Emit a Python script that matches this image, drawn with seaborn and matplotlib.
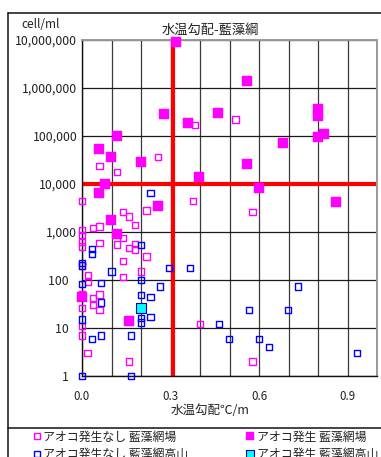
import matplotlib
matplotlib.use("Agg")
import matplotlib.pyplot as plt
import matplotlib.ticker as mticker
from matplotlib.lines import Line2D
import seaborn as sns
import pandas as pd

# ---------------- data ----------------
# アオコ発生 藍藻網場 (filled magenta)
bloom_a_x = [0.319, 0.278, 0.359, 0.119, 0.058, 0.098, 0.200, 0.078, 0.058, 0.395,
             0.559, 0.460, 0.800, 0.800, 0.800, 0.820, 0.680, 0.559, 0.599, 0.860,
             0.256, 0.098, 0.119, 0.0, 0.159]
bloom_a_y = [9.0e6, 2.9e5, 1.9e5, 1.0e5, 5.4e4, 3.6e4, 2.9e4, 1.0e4, 6.4e3, 1.4e4,
             1.4e6, 3.0e5, 3.6e5, 2.6e5, 9.7e4, 1.1e5, 7.3e4, 2.6e4, 8.3e3, 4.2e3,
             3.4e3, 1.8e3, 900, 45, 14]

# アオコ発生 藍藻網高山 (filled cyan)
bloom_b_x = [0.199]
bloom_b_y = [26]

# アオコ発生なし 藍藻網場 (open magenta)
none_a_x = [0.059, 0.118, 0.258, 0.382, 0.520, 0.0, 0.377, 0.578, 0.400, 0.578,
            0.219, 0.138, 0.160, 0.180, 0.059, 0.038, 0.0, 0.0, 0.138, 0.0,
            0.059, 0.118, 0.180, 0.0, 0.160, 0.180, 0.219, 0.138, 0.0, 0.021,
            0.199, 0.021, 0.138, 0.0, 0.059, 0.038, 0.038, 0.059, 0.0, 0.0,
            0.0, 0.019, 0.160]
none_a_y = [2.4e4, 1.8e4, 3.7e4, 1.7e5, 2.2e5, 4.5e3, 4.4e3, 2.6e3, 12, 2,
            2.8e3, 2.6e3, 2.1e3, 1.4e3, 1.3e3, 1.2e3, 1.1e3, 870, 740, 630,
            580, 550, 560, 500, 460, 430, 310, 250, 200, 127,
            150, 92, 114, 50, 50, 42, 30, 24, 26, 11,
            7, 3, 2]

# アオコ発生なし 藍藻網高山 (open blue)
none_b_x = [0.232, 0.199, 0.033, 0.033, 0.0, 0.0, 0.100, 0.296, 0.365, 0.199,
            0.0, 0.065, 0.265, 0.199, 0.232, 0.065, 0.0, 0.199, 0.199, 0.232,
            0.065, 0.033, 0.166, 0.0, 0.166, 0.731, 0.566, 0.698, 0.465, 0.498,
            0.599, 0.633, 0.933]
none_b_y = [6.6e3, 530, 440, 350, 230, 200, 150, 180, 175, 100,
            81, 85, 73, 49, 45, 34, 15, 16, 13, 17,
            7, 6, 7, 1, 1, 73, 24, 24, 12, 6,
            6, 4, 3]

threshold_x = 0.31
threshold_y = 10000

y_ticks = [1, 10, 100, 1000, 10000, 100000, 1000000, 10000000]
x_ticks = [0.0, 0.3, 0.6, 0.9]

title = "水温勾配-藍藻綱"
x_label = "水温勾配℃/m"
y_unit = "cell/ml"
labels = ["アオコ発生なし 藍藻網場", "アオコ発生 藍藻網場",
          "アオコ発生なし 藍藻網高山", "アオコ発生 藍藻網高山"]

# ---------------- style ----------------
sns.set_style("white")
plt.rcParams["font.family"] = ["Noto Sans CJK JP", "DejaVu Sans"]

W, H = 381, 457
fig = plt.figure(figsize=(W / 100, H / 100), dpi=100)
fig.patch.set_facecolor("white")
ax = fig.add_axes([82 / W, 1 - 376 / H, (377 - 82) / W, (376 - 40) / H])

MAG = "#ff00ff"
BLUE = "#0000ff"
CYAN = "#00ffff"

sns.scatterplot(x=none_a_x, y=none_a_y, ax=ax, marker="s", s=20, color=MAG,
                facecolor="none", edgecolor=MAG, linewidth=1.0, clip_on=False, zorder=3)
sns.scatterplot(x=none_b_x, y=none_b_y, ax=ax, marker="s", s=20, color=BLUE,
                facecolor="none", edgecolor=BLUE, linewidth=1.0, clip_on=False, zorder=3)
sns.scatterplot(x=bloom_a_x, y=bloom_a_y, ax=ax, marker="s", s=58, color=MAG,
                edgecolor=MAG, linewidth=0.3, clip_on=False, zorder=4)
sns.scatterplot(x=bloom_b_x, y=bloom_b_y, ax=ax, marker="s", s=50, color=CYAN,
                edgecolor="#0000a0", linewidth=0.8, clip_on=False, zorder=4)

ax.axvline(threshold_x, color="#ff0000", lw=3.0, zorder=2)
ax.axhline(threshold_y, color="#ff0000", lw=3.0, zorder=2)

ax.set_yscale("log")
ax.set_ylim(1, 1e7)
ax.set_xlim(0, 1.0)
ax.yaxis.set_major_locator(mticker.FixedLocator(y_ticks))
ax.yaxis.set_minor_locator(mticker.NullLocator())

def yfmt(v, pos):
    s = f"{int(round(v)):,}"
    if v < 1000:
        s = s + "   "
    return s

ax.yaxis.set_major_formatter(mticker.FuncFormatter(yfmt))
ax.xaxis.set_major_locator(mticker.FixedLocator(x_ticks))
ax.xaxis.set_major_formatter(mticker.FormatStrFormatter("%.1f"))
ax.xaxis.set_minor_locator(mticker.MultipleLocator(0.1))

ax.grid(True, which="both", axis="x", color="#3a3a3a", lw=0.9)
ax.grid(True, which="major", axis="y", color="#1a1a1a", lw=0.9)
ax.set_axisbelow(True)

ax.tick_params(axis="y", which="major", length=2, width=0.8, pad=1.5,
               labelsize=8.8, colors="#222222", direction="out")
ax.tick_params(axis="x", which="both", length=0, pad=10, labelsize=8.3,
               colors="#222222")
ax.set_xlabel("")
ax.set_ylabel("")

for side in ["left", "bottom"]:
    ax.spines[side].set_color("#111111")
    ax.spines[side].set_linewidth(1.0)
for side in ["top", "right"]:
    ax.spines[side].set_color("#999999")
    ax.spines[side].set_linewidth(1.4)

# texts
fig.text(210 / W, 1 - 30 / H, title, ha="center", va="center", fontsize=9.5, color="#222222")
fig.text(41 / W, 1 - 24 / H, y_unit, ha="center", va="center", fontsize=8.5, color="#222222")
fig.text(210 / W, 1 - 410 / H, x_label, ha="center", va="center", fontsize=9, color="#222222")

# chart border lines
fig.add_artist(Line2D([8 / W, 8 / W], [1 - 13 / H, 0], transform=fig.transFigure,
                      color="#111111", lw=1.1))
fig.add_artist(Line2D([8 / W, 1], [1 - 13 / H, 1 - 13 / H], transform=fig.transFigure,
                      color="#111111", lw=1.1))
fig.add_artist(Line2D([8 / W, 1], [1 - 428 / H, 1 - 428 / H], transform=fig.transFigure,
                      color="#111111", lw=1.1))

# legend (column-major order: left column then right column)
h_none_a = Line2D([], [], ls="none", marker="s", markersize=5, markerfacecolor="none",
                  markeredgecolor=MAG, markeredgewidth=1.0)
h_bloom_a = Line2D([], [], ls="none", marker="s", markersize=6, markerfacecolor=MAG,
                   markeredgecolor=MAG, markeredgewidth=0.3)
h_none_b = Line2D([], [], ls="none", marker="s", markersize=5, markerfacecolor="none",
                  markeredgecolor=BLUE, markeredgewidth=1.0)
h_bloom_b = Line2D([], [], ls="none", marker="s", markersize=6, markerfacecolor=CYAN,
                   markeredgecolor="#0000a0", markeredgewidth=0.8)
handles = [h_none_a, h_none_b, h_bloom_a, h_bloom_b]
leg_labels = [labels[0], labels[2], labels[1], labels[3]]
fig.legend(handles, leg_labels, loc="upper left", bbox_to_anchor=(33 / W, 1 - 430.5 / H),
           ncol=2, frameon=False, fontsize=8.6, handlelength=0.6, handletextpad=0.25,
           columnspacing=4.9, labelspacing=0.4, borderpad=0, borderaxespad=0,
           labelcolor="#222222")

fig.savefig("out.png", dpi=100, facecolor="white")
